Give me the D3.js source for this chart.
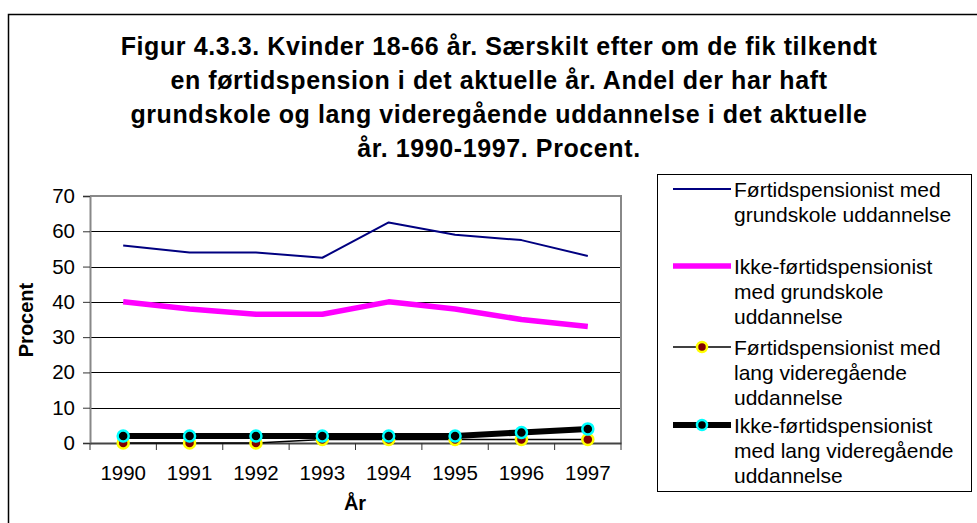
<!DOCTYPE html>
<html>
<head>
<meta charset="utf-8">
<script src="https://cdn.jsdelivr.net/npm/d3@7"></script>
<style>
  body { margin: 0; background: #fff; }
  text { font-family: Arial, "Liberation Sans", sans-serif; fill: #000; }
</style>
</head>
<body>
<svg id="chart" width="977" height="523"></svg>
<script>
var years = ["1990", "1991", "1992", "1993", "1994", "1995", "1996", "1997"];
var fortidGrund = [56, 54, 54, 52.5, 62.5, 59, 57.5, 53];
var ikkeGrund = [40, 38, 36.5, 36.5, 40, 38, 35, 33];
var fortidLang = [0, 0, 0, 1, 1, 1, 1, 1];
var ikkeLang = [2, 2, 2, 2, 2, 2, 3, 4];
var yTicks = [0, 10, 20, 30, 40, 50, 60, 70];
var titleLines = [
  "Figur 4.3.3. Kvinder 18-66 år. Særskilt efter om de fik tilkendt",
  "en førtidspension i det aktuelle år. Andel der har haft",
  "grundskole og lang videregående uddannelse i det aktuelle",
  "år. 1990-1997. Procent."
];

var series = [
  {name: ["Førtidspensionist med", "grundskole uddannelse"], values: fortidGrund, color: "#000080", width: 2, marker: null},
  {name: ["Ikke-førtidspensionist", "med grundskole", "uddannelse"], values: ikkeGrund, color: "#ff00ff", width: 5.5, marker: null},
  {name: ["Førtidspensionist med", "lang videregående", "uddannelse"], values: fortidLang, color: "#000", width: 1.5, marker: {fill: "#800000", stroke: "#ffff00"}},
  {name: ["Ikke-førtidspensionist", "med lang videregående", "uddannelse"], values: ikkeLang, color: "#000", width: 6, marker: {fill: "#000", stroke: "#00ffff"}}
];

var svg = d3.select("#chart");

// outer chart frame (runs on past the right and bottom edge)
svg.append("path")
  .attr("d", "M8.5,530 V14.5 H990")
  .attr("fill", "none").attr("stroke", "#000").attr("stroke-width", 1.5);

svg.append("g").selectAll("text")
  .data(titleLines)
  .enter().append("text")
  .attr("x", 499)
  .attr("y", function(d, i) { return 55 + i * 34; })
  .attr("text-anchor", "middle")
  .style("font-size", "25px")
  .style("letter-spacing", "0.6px")
  .style("font-weight", "bold")
  .text(function(d) { return d; });

var plotLeft = 90, plotRight = 621, plotTop = 196, plotBottom = 443;

var x = d3.scaleBand().domain(years).range([plotLeft, plotRight]);
var y = d3.scaleLinear().domain([0, 70]).range([plotBottom, plotTop]);

// gridlines
svg.append("g").selectAll("line")
  .data(yTicks.slice(1, -1))
  .enter().append("line")
  .attr("x1", plotLeft).attr("x2", plotRight)
  .attr("y1", function(d) { return Math.round(y(d)) + 0.5; })
  .attr("y2", function(d) { return Math.round(y(d)) + 0.5; })
  .attr("stroke", "#000").attr("stroke-width", 1);

// plot frame top/right
svg.append("path")
  .attr("d", "M" + plotLeft + "," + y(70) + " H" + plotRight + " V" + plotBottom)
  .attr("fill", "none").attr("stroke", "#888").attr("stroke-width", 2);

var yAxis = svg.append("g")
  .attr("transform", "translate(" + plotLeft + ",0)")
  .call(d3.axisLeft(y).tickValues(yTicks).tickSize(7).tickPadding(8).tickFormat(d3.format("d")));
yAxis.select(".domain").attr("stroke", "#888").attr("stroke-width", 2);
yAxis.selectAll(".tick line").attr("stroke", "#333");
yAxis.selectAll("text").style("font-size", "20.5px").style("font-family", "Arial, 'Liberation Sans', sans-serif");

var xAxis = svg.append("g")
  .attr("transform", "translate(0," + plotBottom + ")")
  .call(d3.axisBottom(x).tickSize(0).tickPadding(22));
xAxis.select(".domain").attr("stroke", "#444").attr("stroke-width", 2);
xAxis.selectAll("text").style("font-size", "20.5px").style("font-family", "Arial, 'Liberation Sans', sans-serif");
// category separators under the x axis
xAxis.selectAll(".sep")
  .data(years.concat(["end"]))
  .enter().append("line")
  .attr("class", "sep")
  .attr("x1", function(d, i) { return plotLeft + i * x.step(); })
  .attr("x2", function(d, i) { return plotLeft + i * x.step(); })
  .attr("y1", 0).attr("y2", 7)
  .attr("stroke", "#333");

svg.append("text")
  .attr("transform", "translate(33,320) rotate(-90)")
  .attr("text-anchor", "middle")
  .style("font-size", "20px").style("font-weight", "bold")
  .text("Procent");

svg.append("text")
  .attr("x", 355).attr("y", 510)
  .attr("text-anchor", "middle")
  .style("font-size", "20px").style("font-weight", "bold")
  .text("År");

function cx(i) { return x(years[i]) + x.bandwidth() / 2; }

var line = d3.line()
  .x(function(d, i) { return cx(i); })
  .y(function(d) { return y(d); });

series.forEach(function(s) {
  svg.append("path")
    .datum(s.values)
    .attr("d", line)
    .attr("fill", "none")
    .attr("stroke", s.color)
    .attr("stroke-width", s.width)
    .attr("stroke-linejoin", "round");
  if (s.marker) {
    svg.append("g").selectAll("circle")
      .data(s.values)
      .enter().append("circle")
      .attr("cx", function(d, i) { return cx(i); })
      .attr("cy", function(d) { return y(d); })
      .attr("r", 5.5)
      .attr("fill", s.marker.fill)
      .attr("stroke", s.marker.stroke)
      .attr("stroke-width", 2.5);
  }
});

// legend
var lg = svg.append("g");
lg.append("rect")
  .attr("x", 657.5).attr("y", 174.5)
  .attr("width", 314).attr("height", 317)
  .attr("fill", "#fff").attr("stroke", "#000").attr("stroke-width", 1);

var legendY = [189, 266, 347, 425];
series.forEach(function(s, i) {
  var ly = legendY[i];
  lg.append("line")
    .attr("x1", 673).attr("x2", 731)
    .attr("y1", ly).attr("y2", ly)
    .attr("stroke", s.color).attr("stroke-width", s.width);
  if (s.marker) {
    lg.append("circle")
      .attr("cx", 702).attr("cy", ly).attr("r", 5)
      .attr("fill", s.marker.fill).attr("stroke", s.marker.stroke).attr("stroke-width", 2.5);
  }
  lg.append("g").selectAll("text")
    .data(s.name)
    .enter().append("text")
    .attr("x", 734)
    .attr("y", function(d, j) { return ly + 8 + j * 25; })
    .style("font-size", "21px")
    .text(function(d) { return d; });
});
</script>
</body>
</html>
